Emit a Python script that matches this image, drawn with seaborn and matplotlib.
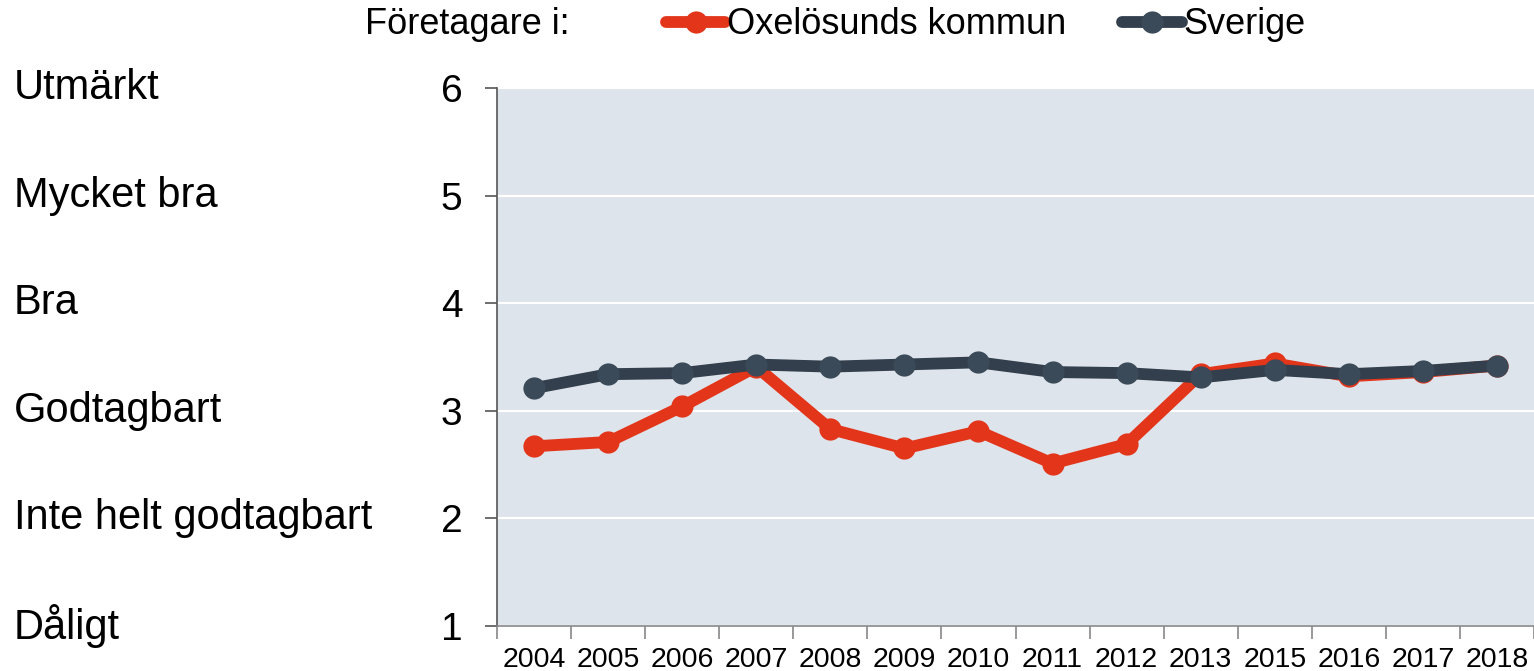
import matplotlib
matplotlib.use("Agg")
import matplotlib.pyplot as plt
from matplotlib.lines import Line2D
from matplotlib.ticker import FixedLocator
from matplotlib.transforms import blended_transform_factory
import seaborn as sns
import pandas as pd

years = ["2004", "2005", "2006", "2007", "2008", "2009", "2010",
         "2011", "2012", "2013", "2015", "2016", "2017", "2018"]
oxelosund = [2.67, 2.71, 3.04, 3.41, 2.83, 2.65, 2.81,
             2.51, 2.69, 3.34, 3.44, 3.32, 3.36, 3.42]
sverige = [3.21, 3.34, 3.35, 3.43, 3.41, 3.43, 3.45,
           3.36, 3.35, 3.31, 3.38, 3.34, 3.37, 3.42]
grades = ["Dåligt", "Inte helt godtagbart", "Godtagbart", "Bra", "Mycket bra", "Utmärkt"]
grade_values = [1, 2, 3, 4, 5, 6]

series_names = ["Oxelösunds kommun", "Sverige"]
colors = {"Oxelösunds kommun": "#E3351A", "Sverige": "#333F4C"}
marker_colors = {"Oxelösunds kommun": "#E3351A", "Sverige": "#3A4A58"}

df = pd.DataFrame({
    "pos": list(range(len(years))) * 2,
    "value": oxelosund + sverige,
    "serie": [series_names[0]] * len(years) + [series_names[1]] * len(years),
})

sns.set_style("white")
plt.rcParams["font.family"] = ["Liberation Sans", "DejaVu Sans"]
plt.rcParams["text.color"] = "black"
plt.rcParams["xtick.color"] = "black"
plt.rcParams["ytick.color"] = "black"

fig = plt.figure(figsize=(15.34, 6.71), dpi=100)
ax = fig.add_axes([0.324, 0.067, 0.676, 0.802])
ax.set_facecolor("#DEE4EB")

for name in series_names:
    sns.lineplot(data=df[df["serie"] == name], x="pos", y="value",
                 color=colors[name], lw=8.5, marker="o", markersize=16,
                 markeredgewidth=0, markerfacecolor=marker_colors[name],
                 sort=False, ax=ax, legend=False, zorder=3)

ax.set_xlim(-0.5, len(years) - 0.5)
ax.set_ylim(1, 6)
ax.set_xlabel("")
ax.set_ylabel("")

ax.set_xticks(range(len(years)))
ax.set_xticklabels(years, fontsize=20.5)
ax.xaxis.set_minor_locator(FixedLocator([i - 0.5 for i in range(len(years) + 1)]))
ax.tick_params(axis="x", which="major", bottom=True, length=0, pad=15)
ax.tick_params(axis="x", which="minor", bottom=True, length=9, width=1.2,
               color="#888888", direction="out")

ax.set_yticks(grade_values)
ax.set_yticklabels([str(v) for v in grade_values], fontsize=28)
ax.tick_params(axis="y", left=True, length=9, width=1.2, color="#555555",
               direction="out", pad=16)

ax.grid(axis="y", color="white", lw=1.5)
ax.grid(axis="x", visible=False)
ax.set_axisbelow(True)

for side in ["top", "right"]:
    ax.spines[side].set_visible(False)
ax.spines["left"].set_color("#555555")
ax.spines["left"].set_linewidth(1.2)
ax.spines["bottom"].set_color("#888888")
ax.spines["bottom"].set_linewidth(1.2)

# grade names on the left
trans = blended_transform_factory(fig.transFigure, ax.transData)
for g, v in zip(grades, grade_values):
    ax.text(0.009, v, g, transform=trans, fontsize=30, va="center", ha="left")

fig.text(0.238, 0.963, "Företagare i:", fontsize=26, va="center", ha="left")
handles = [Line2D([], [], color=colors[n], lw=8.5, marker="o", markersize=16,
                  markeredgewidth=0, markerfacecolor=marker_colors[n]) for n in series_names]
fig.legend(handles, series_names, loc="center left", bbox_to_anchor=(0.434, 0.963),
           ncol=2, frameon=False, fontsize=26, handlelength=1.65, handletextpad=0.05,
           columnspacing=1.55, borderaxespad=0, borderpad=0)

fig.savefig("out.png", dpi=100)
